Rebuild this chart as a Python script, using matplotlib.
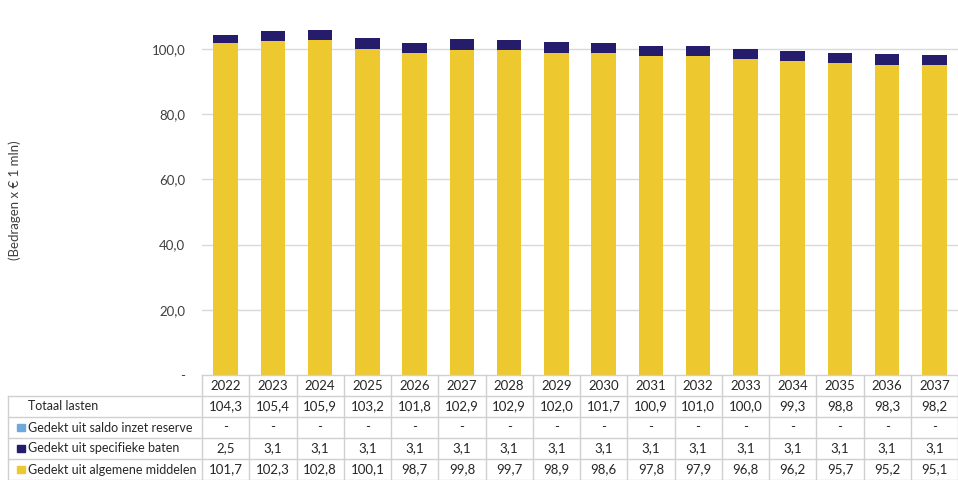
import numpy as np
import matplotlib
matplotlib.use("Agg")
import matplotlib.pyplot as plt
from matplotlib.patches import Rectangle

plt.rcParams['font.family'] = ['Lato', 'DejaVu Sans']

# data
years = ['2022', '2023', '2024', '2025', '2026', '2027', '2028', '2029',
         '2030', '2031', '2032', '2033', '2034', '2035', '2036', '2037']
totaal = [104.3, 105.4, 105.9, 103.2, 101.8, 102.9, 102.9, 102.0,
          101.7, 100.9, 101.0, 100.0, 99.3, 98.8, 98.3, 98.2]
reserve = [0.0] * 16
specifiek = [2.5, 3.1, 3.1, 3.1, 3.1, 3.1, 3.1, 3.1,
             3.1, 3.1, 3.1, 3.1, 3.1, 3.1, 3.1, 3.1]
algemeen = [101.7, 102.3, 102.8, 100.1, 98.7, 99.8, 99.7, 98.9,
            98.6, 97.8, 97.9, 96.8, 96.2, 95.7, 95.2, 95.1]

yellow = '#EEC82F'
navy = '#251C6B'
lightblue = '#6FA8DC'
grid_c = '#D9D9D9'
txt_c = '#404040'

W, H = 958, 480
fig = plt.figure(figsize=(W / 100, H / 100), dpi=100)

# main chart
ax = fig.add_axes([202 / W, (H - 375) / H, 756 / W, 375 / H])
x = np.arange(len(years))
alg = np.array(algemeen)
spec = np.array(specifiek)
res = np.array(reserve)
ax.bar(x, alg, width=0.52, color=yellow, zorder=3)
ax.bar(x, spec, width=0.52, bottom=alg, color=navy, zorder=3)
ax.bar(x, res, width=0.52, bottom=alg + spec, color=lightblue, zorder=3)
ax.set_xlim(-0.5, len(years) - 0.5)
ax.set_ylim(0, 115)
ax.set_yticks([0, 20, 40, 60, 80, 100])
ax.set_yticklabels(['-', '20,0', '40,0', '60,0', '80,0', '100,0'],
                   fontsize=9.5, color=txt_c)
ax.tick_params(axis='y', length=0, pad=12)
ax.set_xticks([])
for s in ax.spines.values():
    s.set_visible(False)
for v in [20, 40, 60, 80, 100]:
    ax.axhline(v, color=grid_c, lw=1, zorder=1)
fig.text(15 / W, 1 - 200 / H, '(Bedragen x € 1 mln)', rotation=90,
         ha='center', va='center', fontsize=9.5, color=txt_c)

# data table below
tx0 = 8
label_w = 202 - tx0
col_w = 756 / len(years)
tab = fig.add_axes([tx0 / W, 0, (W - tx0) / W, 105 / H])
left = -0.5 - label_w / col_w
tab.set_xlim(left, len(years) - 0.5)
tab.set_ylim(5, 0)
tab.axis('off')

def fmt(v):
    return '-' if v == 0 else f'{v:.1f}'.replace('.', ',')

rows = [('Totaal lasten', totaal, None),
        ('Gedekt uit saldo inzet reserve', reserve, lightblue),
        ('Gedekt uit specifieke baten', specifiek, navy),
        ('Gedekt uit algemene middelen', algemeen, yellow)]

lc = '#D0D0D0'
# header row
tab.plot([-0.5, len(years) - 0.5], [0, 0], color=lc, lw=1, clip_on=False)
for i, yr in enumerate(years):
    tab.text(i, 0.5, yr, ha='center', va='center', fontsize=9.5, color='#262626')
for i in range(len(years) + 1):
    tab.plot([i - 0.5, i - 0.5], [0, 5], color=lc, lw=1, clip_on=False)
for r in range(1, 6):
    tab.plot([left, len(years) - 0.5], [r, r], color=lc, lw=1, clip_on=False)
tab.plot([left, left], [1, 5], color=lc, lw=1, clip_on=False)

key_w = 8 / col_w
for r, (name, vals, col) in enumerate(rows, start=1):
    tx = left + 20 / col_w
    if col is not None:
        tab.add_patch(Rectangle((left + 9 / col_w, r + 0.32), key_w, 0.36,
                                color=col, clip_on=False))
    tab.text(tx, r + 0.5, name, ha='left', va='center', fontsize=9,
             color='#262626')
    for i, v in enumerate(vals):
        tab.text(i, r + 0.5, fmt(v), ha='center', va='center', fontsize=9.5,
                 color='#262626')

fig.savefig('out.png', dpi=100)
plt.close()
